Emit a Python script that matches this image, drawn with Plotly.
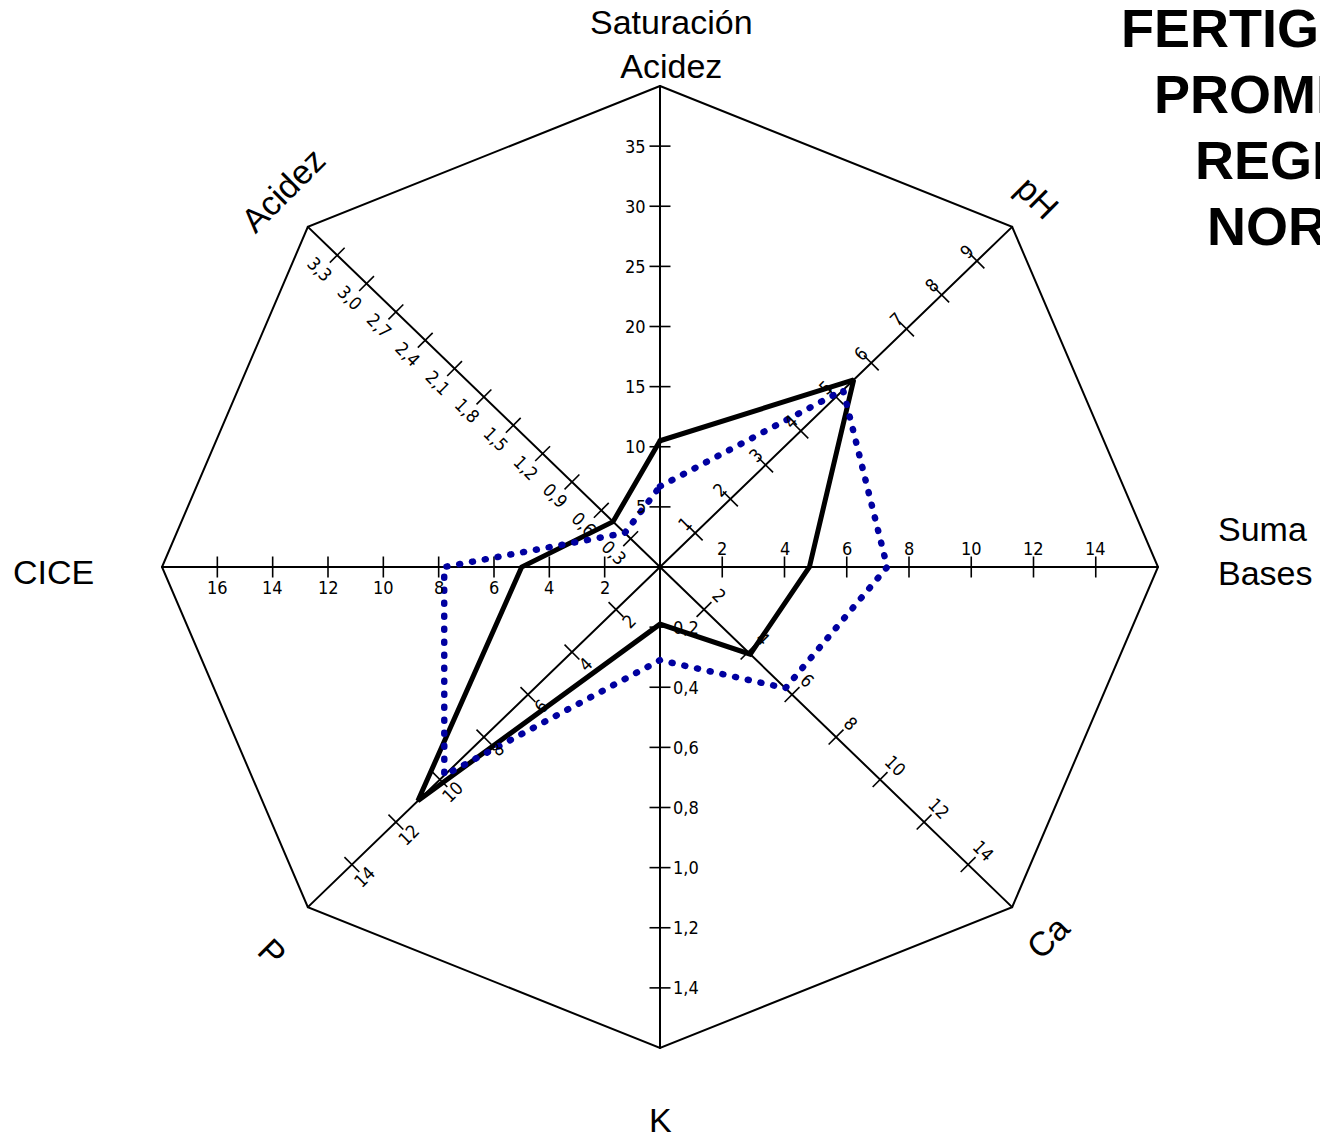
import math
import plotly.graph_objects as go

# ---------------- data ----------------
axes_names = ["Saturación Acidez", "pH", "Suma Bases", "Ca", "K", "P", "CICE", "Acidez"]
axes_angles = [90, 45, 0, -45, -90, -135, 180, 135]          # direction of each spoke (deg)
axes_max = [40, 10, 16, 16, 1.6, 16, 18, 3.6]                 # value at the octagon edge

solid_values = [10.5, 5.5, 4.8, 4.1, 0.19, 11.0, 5.0, 0.48]
dotted_values = [6.7, 5.2, 7.3, 5.7, 0.31, 9.8, 7.8, 0.36]

tick_sat = [5, 10, 15, 20, 25, 30, 35]
tick_ph = [1, 2, 3, 4, 5, 6, 7, 8, 9]
tick_sb = [2, 4, 6, 8, 10, 12, 14]
tick_ca = [2, 4, 6, 8, 10, 12, 14]
tick_k = [0.2, 0.4, 0.6, 0.8, 1.0, 1.2, 1.4]
tick_p = [2, 4, 6, 8, 10, 12, 14]
tick_cice = [2, 4, 6, 8, 10, 12, 14, 16]
tick_ac = [0.3, 0.6, 0.9, 1.2, 1.5, 1.8, 2.1, 2.4, 2.7, 3.0, 3.3]
axes_ticks = [tick_sat, tick_ph, tick_sb, tick_ca, tick_k, tick_p, tick_cice, tick_ac]

title_lines = ["FERTIGRAMA", "PROMEDIO", "REGIÓN", "NORTE"]
axis_titles = ["Saturación<br>Acidez", "pH", "Suma<br>Bases", "Ca", "K", "P", "CICE", "Acidez"]

# ---------------- styles ----------------
W, H = 1320, 1139
CX, CY = 660, 567          # centre in px
SX, SY = 498, 481          # px per unit radius (horizontal / vertical)
NARROW = "Liberation Sans Narrow, Arial Narrow, DejaVu Sans Condensed, sans-serif"
SANS = "Liberation Sans, Arial, sans-serif"
BLUE = "#0000A0"

# tick mark symbol angle and label placement per axis
tick_style = [
    dict(mangle=90, xanchor="right", xshift=-12, yshift=0, textangle=0),
    dict(mangle=-45, xanchor="center", xshift=-10, yshift=9, textangle=-45),
    dict(mangle=0, xanchor="center", xshift=0, yshift=19, textangle=0),
    dict(mangle=45, xanchor="center", xshift=15, yshift=14, textangle=45),
    dict(mangle=90, xanchor="left", xshift=11, yshift=0, textangle=0),
    dict(mangle=-45, xanchor="center", xshift=13, yshift=-12, textangle=-45),
    dict(mangle=0, xanchor="center", xshift=0, yshift=-20, textangle=0),
    dict(mangle=45, xanchor="center", xshift=-17, yshift=-14, textangle=45),
]
title_pos = [  # px position of the axis titles
    dict(x=671, y=44, angle=0, xanchor="center", align="center"),
    dict(x=1037, y=197, angle=45, xanchor="center", align="center"),
    dict(x=1216, y=551, angle=0, xanchor="left", align="left"),
    dict(x=1048, y=937, angle=-45, xanchor="center", align="center"),
    dict(x=660, y=1120, angle=0, xanchor="center", align="center"),
    dict(x=272, y=952, angle=45, xanchor="center", align="center"),
    dict(x=53, y=572, angle=0, xanchor="center", align="center"),
    dict(x=283, y=190, angle=-45, xanchor="center", align="center"),
]
TITLE_X = 1301
TITLE_Y = [28, 94, 160, 226]
TITLE_SIZE = 54


def to_xy(value, k):
    r = value / axes_max[k]
    t = math.radians(axes_angles[k])
    return r * math.cos(t), r * math.sin(t)


def fmt(v, k):
    if axes_max[k] < 5:
        return f"{v:.1f}".replace(".", ",")
    return str(int(v))


fig = go.Figure()

# octagon
ox, oy = [], []
for k in range(len(axes_names) + 1):
    x, y = to_xy(axes_max[k % 8], k % 8)
    ox.append(x)
    oy.append(y)
fig.add_trace(go.Scatter(x=ox, y=oy, mode="lines", line=dict(color="black", width=2),
                         hoverinfo="skip"))

# spokes
for k in range(len(axes_names)):
    x, y = to_xy(axes_max[k], k)
    fig.add_trace(go.Scatter(x=[0, x], y=[0, y], mode="lines",
                             line=dict(color="black", width=2), hoverinfo="skip"))

# tick marks
annotations = []
for k, ticks in enumerate(axes_ticks):
    st = tick_style[k]
    xs, ys = zip(*[to_xy(v, k) for v in ticks])
    fig.add_trace(go.Scatter(x=list(xs), y=list(ys), mode="markers",
                             marker=dict(symbol="line-ns", size=15, angle=st["mangle"],
                                         line=dict(color="black", width=1.6)),
                             hoverinfo="skip"))
    for v, x, y in zip(ticks, xs, ys):
        annotations.append(dict(x=x, y=y, xref="x", yref="y", text=fmt(v, k),
                                showarrow=False, xanchor=st["xanchor"], yanchor="middle",
                                xshift=st["xshift"], yshift=st["yshift"],
                                textangle=st["textangle"],
                                font=dict(family=NARROW, size=18, color="black")))

# data polygons
for vals, color, width, dash in [(solid_values, "black", 5, "solid"),
                                 (dotted_values, BLUE, 6.5, "1px,12px")]:
    px_, py_ = [], []
    for k in range(len(vals) + 1):
        x, y = to_xy(vals[k % 8], k % 8)
        px_.append(x)
        py_.append(y)
    fig.add_trace(go.Scatter(x=px_, y=py_, mode="lines",
                             line=dict(color=color, width=width, dash=dash),
                             hoverinfo="skip"))

# axis titles
for t, p in zip(axis_titles, title_pos):
    annotations.append(dict(x=p["x"] / W, y=1 - p["y"] / H, xref="paper", yref="paper",
                            text=t, showarrow=False, xanchor=p["xanchor"], yanchor="middle",
                            align=p["align"], textangle=p["angle"],
                            font=dict(family=SANS, size=34, color="black")))

# main title (cut at the right border, as in the reference)
for line, ty in zip(title_lines, TITLE_Y):
    annotations.append(dict(x=TITLE_X / W, y=1 - ty / H, xref="paper", yref="paper",
                            text="<b>" + line + "</b>", showarrow=False,
                            xanchor="center", yanchor="middle",
                            font=dict(family=SANS, size=TITLE_SIZE, color="black")))

fig.update_layout(
    width=W, height=H,
    margin=dict(l=0, r=0, t=0, b=0),
    paper_bgcolor="white", plot_bgcolor="white",
    showlegend=False,
    xaxis=dict(range=[-CX / SX, (W - CX) / SX], visible=False, fixedrange=True),
    yaxis=dict(range=[-(H - CY) / SY, CY / SY], visible=False, fixedrange=True),
    annotations=annotations,
)

fig.write_html("out.html",
               config={"displayModeBar": False},
               post_script="document.body.style.margin='0';"
                           "document.body.style.overflow='hidden';"
                           "var s=document.createElement('style');"
                           "s.innerHTML='.js-line{stroke-linecap:round}';"
                           "document.head.appendChild(s);")
